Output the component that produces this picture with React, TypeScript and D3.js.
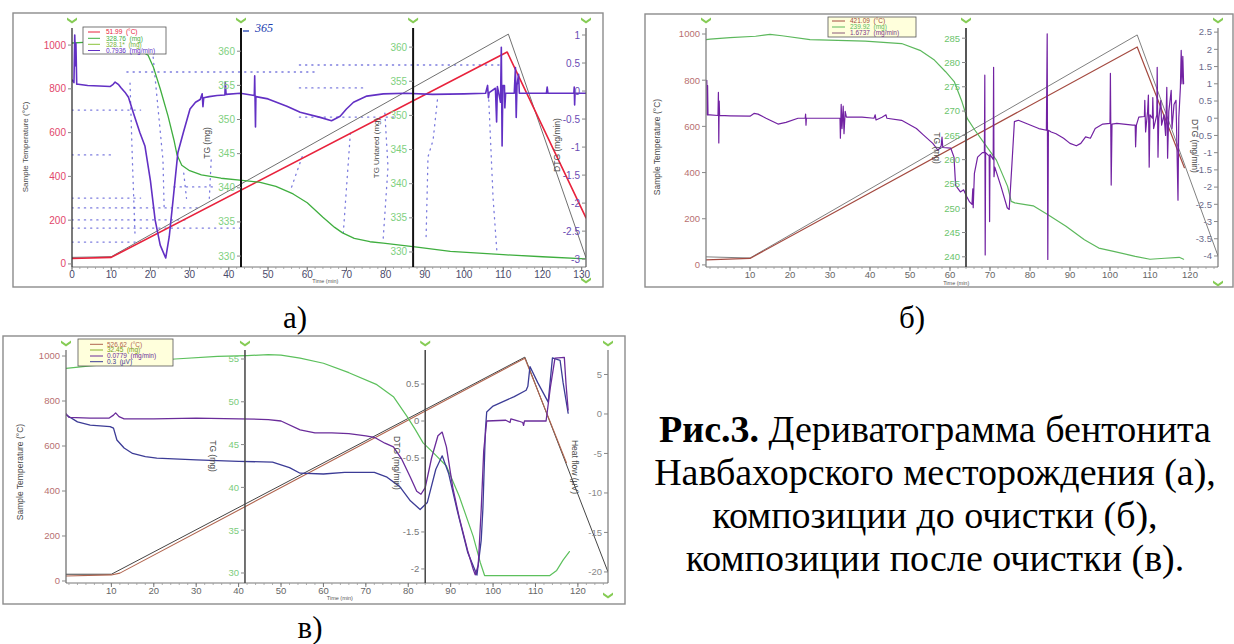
import * as d3 from 'd3';

type Pt = [number, number];

// ---------- а) бентонит ----------
const timeTicksA = [0, 10, 20, 30, 40, 50, 60, 70, 80, 90, 100, 110, 120, 130];
const tempTicks = [0, 200, 400, 600, 800, 1000];
const tgTicksA = [330, 335, 340, 345, 350, 355, 360];
const dtgTicksA = [1, 0.5, 0, -0.5, -1, -1.5, -2, -2.5, -3];

const sampleTempA: Pt[] = [[0, 25], [10, 30], [111, 968], [131.1, 210]];
const programTempA: Pt[] = [[0, 30], [10, 33], [111.3, 1050], [131.1, 28]];
const tgA: Pt[] = [
  [0, 361.2], [3, 361.3], [8, 361.3], [14, 360.8], [18, 359.9], [19.4, 359.4], [20.8, 357.6],
  [22.5, 354.5], [24.5, 350.5], [26, 347], [26.8, 344.8], [28, 343.3], [30, 342.5], [33, 341.9],
  [38, 341.4], [43.4, 341.1], [48, 340.8], [52, 340.2], [56.4, 339.1], [60, 337.8], [64, 335.7],
  [67, 334.2], [69, 333.4], [72, 332.6], [76, 332.1], [79.4, 331.9], [88, 331.3], [96.5, 330.7],
  [110, 330.2], [120, 329.9], [131.1, 329.6],
];
const dtgA: Pt[] = [
  [0, 0.2], [0.5, 0.15], [0.7, 1.0], [0.9, 0.45], [1.0, 0.85], [1.2, 0.12], [1.6, 0.12], [4, 0.1],
  [7, 0.09], [9.7, 0.08], [10.5, 0.12], [11, 0.16], [11.8, 0.12], [12.5, 0.06], [13.5, -0.02],
  [14.4, -0.11], [15.6, -0.38], [17.3, -0.74], [18.6, -0.98], [20, -1.6], [21.2, -2.3], [22.5, -2.75],
  [23.9, -2.98], [24.8, -2.6], [25.8, -1.93], [27, -1.1], [28.4, -0.74], [30.1, -0.32], [31.5, -0.2],
  [32.7, -0.15], [33.2, -0.05], [33.4, -0.28], [33.6, -0.12], [35, -0.1], [37, -0.08], [39, -0.07],
  [39.1, 0.16], [39.3, -0.06], [42.9, -0.04], [46.5, -0.08], [46.6, 0.27], [46.8, -0.64], [46.9, -0.1],
  [50, -0.14], [54.8, -0.27], [58.2, -0.38], [63.3, -0.47], [66.2, -0.53], [68.4, -0.45], [70, -0.32],
  [71.8, -0.2], [75.2, -0.09], [79.4, -0.05], [85, -0.04], [92, -0.06], [100, -0.05], [105.5, -0.04],
  [106, 0.1], [106.2, -0.12], [106.4, -0.03], [108, 0.05], [108.3, -0.55], [108.5, 0.08], [109.3, -0.2],
  [109.5, 0.78], [109.7, -0.98], [109.9, 0.1], [110.3, 0.1], [110.4, -0.3], [110.6, -0.04], [112.8, -0.04],
  [113.1, 0.42], [113.3, -0.47], [113.5, 0.1], [113.9, 0.3], [114.1, -0.04], [121, -0.04], [121.2, 0.07],
  [121.4, -0.04], [128, -0.04], [128.1, 0.07], [128.2, -0.25], [128.3, -0.04], [131.1, -0.04],
];
// blue dotted traces of the scanned original (temperature units)
const dottedA: Pt[][] = [
  [[0, 100], [17.5, 100]], [[0, 164], [43, 164]], [[0, 201], [29, 201]], [[0, 256], [33, 256]],
  [[0, 301], [17.5, 301]], [[26, 352], [36, 352]], [[0, 498], [10, 498]], [[0, 703], [17.5, 703]],
  [[14, 877], [63, 877]], [[58, 909], [109, 909]], [[58, 804], [75, 804]], [[58, 671], [82, 671]],
  [[14.8, 826], [15.4, 475], [16.1, 120]], [[20.7, 945], [23.2, 475], [23.5, 260]],
  [[28.5, 415], [29.2, 300]], [[35.5, 475], [35, 290]], [[58.7, 490], [55.6, 330]],
  [[71, 598], [69.2, 142]], [[79.8, 689], [80.6, 443], [79.3, 96]],
  [[93.2, 749], [92.1, 566], [90.8, 489], [90.3, 110]], [[106.3, 749], [107.4, 301], [108.4, 50]],
];
const legendA = ['51.99  (°C)', '328.76  (mg)', '328.1*  (mg)', '0.7936  (mg/min)'];

// ---------- б) композиция до очистки ----------
const timeTicksB = [10, 20, 30, 40, 50, 60, 70, 80, 90, 100, 110, 120];
const tgTicksB = [240, 245, 250, 255, 260, 265, 270, 275, 280, 285];
const dtgTicksB = [2.5, 2, 1.5, 1, 0.5, 0, -0.5, -1, -1.5, -2, -2.5, -3, -3.5, -4];

const programTempB: Pt[] = [[-1, 35], [10, 30], [106.8, 996], [127, 39]];
const sampleTempB: Pt[] = [[-1, 22], [10, 28], [106.8, 944], [118.6, 421]];
const tgB: Pt[] = [
  [-1, 284.7], [0, 284.8], [5, 285.1], [11.4, 285.4], [15, 285.8], [18, 285.5], [25, 284.7],
  [38.8, 284.4], [47.9, 283.9], [52.5, 282.5], [56.1, 280.5], [58.9, 278.1], [61.1, 276], [63, 271.9],
  [64.3, 268.5], [66.2, 266.1], [68.9, 263], [71.6, 259.9], [74.4, 254.5], [75.3, 251.4], [76.2, 251.1],
  [80.8, 250.5], [84.4, 248.7], [89, 246.3], [93.6, 243.5], [97.2, 241.8], [100.9, 241.1],
  [106.3, 240.1], [110, 239.5], [113.7, 239.7], [117.3, 239.9], [118.4, 239.5],
];
const dtgB: Pt[] = [
  [-0.8, 1.1], [-0.7, 0.1], [-0.6, 0.95], [-0.5, 0.1], [0, 0.1], [2, 0.08], [2.1, 0.75], [2.2, -0.72],
  [2.3, 0.5], [2.4, 0.08], [5, 0.07], [10, 0.06], [11, 0.14], [12, 0.12], [14, 0], [17, -0.17],
  [19, -0.12], [22, 0], [23.8, 0], [23.9, 0.12], [24, -0.2], [24.1, 0], [32.5, 0], [32.6, -0.58],
  [32.8, 0.4], [33, -0.3], [33.3, 0.35], [33.5, -0.45], [33.8, 0.2], [34.1, 0.03], [38, 0.03], [41, 0],
  [41.3, 0.1], [41.5, -0.05], [43, 0.03], [44, 0.1], [44.2, 0], [47.9, -0.06], [51.6, -0.3],
  [53.4, -0.49], [55.7, -0.73], [57, -0.93], [57.8, -0.8], [58, -0.55], [58.2, -0.85], [60.2, -0.87],
  [61, -1.13], [61.4, -1.95], [62.6, -2.14], [63.4, -2.08], [64.2, -2.28], [64.9, -2.43], [65.5, -2.5],
  [65.7, -2.05], [65.8, -2.6], [66.1, -1.6], [66.9, -1.13], [68.1, -1], [68.6, -1], [68.7, 1.25],
  [68.8, -3.97], [68.9, -1], [69.8, -1.1], [69.9, -3], [70, -1.05], [70.8, -1.2], [70.9, 1.48],
  [71, -1.7], [71.2, -1.42], [72.8, -2], [74.3, -2.6], [74.8, -2.65], [75.5, -1.3], [76.1, -0.1],
  [77.1, -0.06], [82.2, -0.3], [84.1, -0.35], [84.3, 2.45], [84.45, -4.1], [84.6, -0.35], [85.3, -0.4],
  [86.5, -0.45], [88.4, -0.58], [90, -0.73], [91.6, -0.8], [92.7, -0.73], [93.9, -0.54], [95.1, -0.58],
  [96.3, -0.3], [98.2, -0.17], [100, -0.15], [100.1, 1.3], [100.3, -1.94], [100.5, -0.17],
  [101.7, -0.15], [105.7, -0.2], [106.3, -0.2], [106.4, -0.83], [106.6, -0.2], [107.2, 0.03],
  [108.6, 0.05], [108.7, 0.52], [108.9, -0.4], [109.4, 0.2], [109.6, 0.67], [109.8, -1.42], [110, 0.1],
  [110.6, 0], [110.7, 0.6], [110.9, -0.3], [111.7, 0.1], [111.8, 1.48], [112, -1.13], [112.2, 0],
  [112.7, 0.52], [112.9, -0.2], [113.5, 0.1], [113.9, -0.5], [114.2, 0.9], [114.4, -1.16], [114.7, 0.2],
  [115.3, 0.81], [115.5, -0.3], [116, 0.4], [116.5, 0.52], [116.7, -0.6], [117, -2.38], [117.2, 0],
  [117.6, 0.9], [117.8, 1.97], [118, 1], [118.2, 1.8], [118.4, 1],
];
const legendB = ['421.09  (°C)', '239.92  (mg)', '1.6737  (mg/min)'];

// ---------- в) композиция после очистки ----------
const tgTicksV = [30, 35, 40, 45, 50, 55];
const dtgTicksV = [0.5, 0, -0.5, -1.5, -2];
const hfTicksV = [5, 0, -5, -10, -15, -20];

const programTempV: Pt[] = [[-0.7, 30], [10, 30], [107.5, 995], [127.1, 40]];
const sampleTempV: Pt[] = [[-0.7, 22], [10, 27], [12, 35], [107.5, 990], [117.3, 526]];
const tgV: Pt[] = [
  [-0.7, 53.9], [5, 54.2], [15, 54.6], [25, 55], [35, 55.3], [42, 55.4], [47, 55.5], [50, 55.45],
  [54.5, 55.1], [60, 54.5], [66, 53.4], [72.6, 52], [76.5, 50.6], [79.7, 48.3], [81.6, 46.8],
  [83.5, 45.2], [86, 44], [89, 42.5], [92, 39], [95.3, 34.3], [97, 31.2], [98, 29.7], [113.4, 29.7],
  [115, 30.3], [116.5, 31.5], [118, 32.5],
];
const dtgV: Pt[] = [
  [-0.7, 0.1], [0, 0.05], [5, 0.04], [9.5, 0.04], [10.5, 0.08], [11, 0.11], [11.8, 0.06], [13, 0.03],
  [20, 0.03], [30, 0.04], [40, 0.03], [47, 0.02], [50, 0], [54.5, -0.12], [58, -0.16], [62, -0.16],
  [66, -0.17], [70, -0.2], [72, -0.22], [74.5, -0.3], [76.5, -0.35], [78.5, -0.52], [80.5, -0.76],
  [82, -0.95], [83, -0.99], [84, -0.9], [85.5, -0.5], [87, -0.2], [88, -0.15], [89, -0.35], [90.5, -0.9],
  [92, -1.3], [94, -1.75], [95.3, -2], [95.8, -2.08], [96.5, -1.95], [97.2, -1.2], [97.8, -0.4],
  [98.5, 0], [103, 0.01], [104, -0.02], [104.2, 0.03], [106, 0], [107, -0.02], [107.2, -0.06],
  [107.4, 0], [112.5, 0], [113.5, 0.45], [114.6, 0.85], [116.8, 0.86], [117.2, 0.5], [117.7, 0.15],
];
const heatFlowV: Pt[] = [
  [-0.7, -0.1], [2, -1], [5, -1.4], [9.7, -1.6], [10.5, -1.8], [11.3, -3.3], [13, -4.3], [15, -5],
  [18, -5.4], [20.7, -5.6], [30, -5.8], [40, -6], [48, -6.1], [52, -6.8], [54.5, -7.5], [60, -7.6],
  [65, -7.4], [72, -7.4], [75, -8], [78, -9.2], [80.5, -11], [82.8, -12.1], [84.5, -11.2], [86.5, -7],
  [88, -5.3], [89.5, -7.5], [91.5, -12.1], [94, -17.5], [96.2, -20.4], [97.2, -16], [97.6, -12],
  [98.2, -2], [98.5, 0.25], [100, 1], [105, 2.2], [107.8, 3], [108.2, 3.5], [108.7, 6], [110.5, 4],
  [113, 1.5], [114, 7.1], [115.8, 6.8], [116.5, 4], [117.7, 0.1],
];
const legendV = ['526.62  (°C)', '32.45  (mg)', '0.0779  (mg/min)', '0.3  (μV)'];

const captionLines = [
  'Навбахорского месторождения (а),',
  'композиции до очистки (б),',
  'композиции после очистки (в).',
];

// ---------- drawing ----------
type YAxis = {
  id: string; domain: [number, number]; at: number; ticks: number[];
  color: string; line: string; lw: number;
  title: string; titleX: number; titleY: number; rot: number; titleSize: number;
};
type Series = { pts: Pt[]; axis: string; color: string; width: number; dash?: string; opacity?: number };
type Legend = {
  box: [number, number, number, number]; rows: number[]; lineX: [number, number]; textX: number;
  fill: string; items: { label: string; line: string; text: string }[];
};
type PanelCfg = {
  id: string; frame: [number, number, number, number];
  plotX: [number, number]; plotY: [number, number]; xDomain: [number, number];
  xTicks: number[]; xTickColor: string; timeLabel: [number, number]; tickFont: number;
  axes: YAxis[]; series: Series[]; legend: Legend; chevY: [number, number];
};

const SANS = '"Liberation Sans", Arial, sans-serif';
const SERIF = '"Liberation Serif", "Times New Roman", serif';

function Chevron({ x, y }: { x: number; y: number }) {
  return <path transform={`translate(${x},${y})`} d="M-5,-2.5 L0,1 L5,-2.5 L5,0 L0,3.5 L-5,0 Z" fill="#86cc55" />;
}

function Panel({ c }: { c: PanelCfg }) {
  const x = d3.scaleLinear().domain(c.xDomain).range(c.plotX);
  const [yb, yt] = c.plotY;
  const ys = new Map(c.axes.map(a => [a.id, d3.scaleLinear().domain(a.domain).range([yb, yt])]));
  const minor = d3.range(Math.ceil(c.xDomain[0] / 2) * 2, c.xDomain[1], 2);
  const [f0, f1, f2, f3] = c.frame;
  const L = c.legend;
  return (
    <g fontFamily={SANS}>
      <rect x={f0} y={f1} width={f2 - f0} height={f3 - f1} fill="#fff" stroke="#8c8c8c" strokeWidth={1.4} />
      <clipPath id={`clip-${c.id}`}>
        <rect x={c.plotX[0]} y={yt} width={c.plotX[1] - c.plotX[0]} height={yb - yt} />
      </clipPath>

      <line x1={c.plotX[0]} x2={c.plotX[1]} y1={yb} y2={yb} stroke="#777" strokeWidth={1} />
      {minor.map(t => (
        <line key={`m${t}`} x1={x(t)} x2={x(t)} y1={yb} y2={yb + 2} stroke="#9a9a9a" strokeWidth={0.8} />
      ))}
      {c.xTicks.map(t => (
        <g key={`t${t}`}>
          <line x1={x(t)} x2={x(t)} y1={yb} y2={yb + 4} stroke="#777" />
          <text x={x(t)} y={yb + 11} textAnchor="middle" fontSize={c.tickFont} fill={c.xTickColor}>{t}</text>
        </g>
      ))}
      <text x={x(c.timeLabel[0])} y={yb + c.timeLabel[1]} fontSize={5.5} fill="#555">Time (min)</text>

      <g clipPath={`url(#clip-${c.id})`}>
        {c.series.map((s, i) => (
          <path key={i} d={d3.line<Pt>().x(d => x(d[0])).y(d => ys.get(s.axis)!(d[1]))(s.pts) ?? ''}
            fill="none" stroke={s.color} strokeWidth={s.width} strokeDasharray={s.dash}
            strokeLinecap="round" strokeLinejoin="round" opacity={s.opacity ?? 1} />
        ))}
      </g>

      {c.axes.map(a => {
        const y = ys.get(a.id)!;
        const ax = x(a.at);
        return (
          <g key={a.id}>
            <line x1={ax} x2={ax} y1={yt} y2={yb} stroke={a.line} strokeWidth={a.lw} />
            {a.ticks.map(v => (
              <g key={v}>
                <line x1={ax - 4} x2={ax} y1={y(v)} y2={y(v)} stroke="#888" />
                <text x={ax - 6} y={y(v)} dy="0.35em" textAnchor="end" fontSize={c.tickFont} fill={a.color}>{v}</text>
              </g>
            ))}
            <text transform={`translate(${a.titleX},${a.titleY}) rotate(${a.rot})`} textAnchor="middle"
              dy="0.35em" fontSize={a.titleSize} fill="#4a4a4a">{a.title}</text>
            <Chevron x={ax} y={c.chevY[0]} />
          </g>
        );
      })}
      <Chevron x={x(c.xDomain[1])} y={c.chevY[1]} />

      <rect x={L.box[0]} y={L.box[1]} width={L.box[2] - L.box[0]} height={L.box[3] - L.box[1]}
        fill={L.fill} stroke="#555" strokeWidth={0.8} />
      {L.items.map((it, i) => (
        <g key={i}>
          <line x1={L.lineX[0]} x2={L.lineX[1]} y1={L.rows[i]} y2={L.rows[i]} stroke={it.line} strokeWidth={1} />
          <text x={L.textX} y={L.rows[i]} dy="0.35em" fontSize={6.5} fill={it.text} style={{ whiteSpace: 'pre' }}>{it.label}</text>
        </g>
      ))}
    </g>
  );
}

const RED = '#e8223c', GRAYL = '#707070', GREENA = '#3fae3f', PURPLEA = '#6230c4', DOTBLUE = '#3434cc';
const BROWN = '#a44a40', GREENB = '#5cb85c', PURPLEB = '#7222a2';
const BROWNV = '#b0644e', DARKV = '#454545', GREENV = '#5cc05c', PURPLEV = '#6a2c9a', BLUEV = '#3c3c96';

const panelA: PanelCfg = {
  id: 'a', frame: [13, 13, 603, 287], plotX: [72, 586], plotY: [267, 28], xDomain: [0, 131.1],
  xTicks: timeTicksA, xTickColor: '#4a4a6a', timeLabel: [61.3, 16], tickFont: 10, chevY: [20, 280],
  axes: [
    { id: 'T', domain: [-14, 1078], at: 0, ticks: tempTicks, color: '#e2466a', line: '#333', lw: 1.3,
      title: 'Sample Temperature (°C)', titleX: 25, titleY: 147, rot: -90, titleSize: 8 },
    { id: 'TG', domain: [328.4, 363.4], at: 43.1, ticks: tgTicksA, color: '#7ed07e', line: '#111', lw: 2,
      title: 'TG (mg)', titleX: 207, titleY: 143, rot: -90, titleSize: 8.5 },
    { id: 'TGU', domain: [327.8, 362.8], at: 87, ticks: tgTicksA, color: '#7ed07e', line: '#111', lw: 2,
      title: 'TG Untared (mg)', titleX: 376, titleY: 148, rot: -90, titleSize: 8 },
    { id: 'DTG', domain: [-3.14, 1.125], at: 131.1, ticks: dtgTicksA, color: '#6a4cb4', line: '#555', lw: 1.2,
      title: 'DTG (mg/min)', titleX: 557, titleY: 145, rot: -90, titleSize: 8.5 },
  ],
  series: [
    ...dottedA.map(pts => ({ pts, axis: 'T', color: DOTBLUE, width: 1.3, dash: '1.2 5', opacity: 0.65 })),
    { pts: programTempA, axis: 'T', color: GRAYL, width: 1 },
    { pts: sampleTempA, axis: 'T', color: RED, width: 1.6 },
    { pts: tgA, axis: 'TG', color: GREENA, width: 1.3 },
    { pts: dtgA, axis: 'DTG', color: PURPLEA, width: 1.6 },
  ],
  legend: {
    box: [83, 27, 166, 54], rows: [32, 38.3, 44.3, 50.5], lineX: [88, 100], textX: 106, fill: '#fff',
    items: [
      { label: legendA[0], line: RED, text: RED },
      { label: legendA[1], line: GREENA, text: GREENA },
      { label: legendA[2], line: '#8ac43a', text: '#7ab43a' },
      { label: legendA[3], line: PURPLEA, text: PURPLEA },
    ],
  },
};

const panelB: PanelCfg = {
  id: 'b', frame: [645, 14, 1233, 287], plotX: [706, 1218], plotY: [267, 28], xDomain: [-1, 127],
  xTicks: timeTicksB, xTickColor: '#666', timeLabel: [58.3, 18], tickFont: 9.5, chevY: [20, 283],
  axes: [
    { id: 'T', domain: [-9, 1026], at: -1, ticks: tempTicks, color: '#b87070', line: '#777', lw: 1.2,
      title: 'Sample Temperature (°C)', titleX: 657, titleY: 147, rot: -90, titleSize: 8.5 },
    { id: 'TG', domain: [237.9, 287.1], at: 64, ticks: tgTicksB, color: '#6cc46c', line: '#444', lw: 1.8,
      title: 'TG (mg)', titleX: 937, titleY: 148, rot: 90, titleSize: 8.5 },
    { id: 'DTG', domain: [-4.32, 2.62], at: 127, ticks: dtgTicksB, color: '#6b6b8b', line: '#777', lw: 1.2,
      title: 'DTG (mg/min)', titleX: 1195, titleY: 146, rot: 90, titleSize: 8.5 },
  ],
  series: [
    { pts: programTempB, axis: 'T', color: '#808080', width: 1 },
    { pts: sampleTempB, axis: 'T', color: BROWN, width: 1.2 },
    { pts: tgB, axis: 'TG', color: GREENB, width: 1.2 },
    { pts: dtgB, axis: 'DTG', color: PURPLEB, width: 1.2 },
  ],
  legend: {
    box: [828, 17, 916, 37], rows: [21, 27, 33], lineX: [832, 845], textX: 850, fill: '#ffffdc',
    items: [
      { label: legendB[0], line: BROWN, text: BROWN },
      { label: legendB[1], line: GREENB, text: GREENB },
      { label: legendB[2], line: '#8a5a7a', text: '#7a3a8a' },
    ],
  },
};

const panelV: PanelCfg = {
  id: 'v', frame: [3, 336, 625, 604], plotX: [66, 608], plotY: [583, 350], xDomain: [-0.7, 127.1],
  xTicks: timeTicksB, xTickColor: '#666', timeLabel: [60.8, 17], tickFont: 9.5, chevY: [343, 595],
  axes: [
    { id: 'T', domain: [-8.9, 1026.7], at: -0.7, ticks: tempTicks, color: '#b87070', line: '#666', lw: 1.2,
      title: 'Sample Temperature (°C)', titleX: 20, titleY: 472, rot: -90, titleSize: 8.5 },
    { id: 'TG', domain: [28.83, 56.05], at: 41.5, ticks: tgTicksV, color: '#7ccc7c', line: '#444', lw: 1.5,
      title: 'TG (mg)', titleX: 213, titleY: 456, rot: 90, titleSize: 8.5 },
    { id: 'DTG', domain: [-2.19, 0.96], at: 84, ticks: dtgTicksV, color: '#777', line: '#444', lw: 1.5,
      title: 'DTG (mg/min)', titleX: 397, titleY: 463, rot: 90, titleSize: 8.5 },
    { id: 'HF', domain: [-21.4, 8.1], at: 127.1, ticks: hfTicksV, color: '#888', line: '#777', lw: 1.2,
      title: 'Heat flow (μV)', titleX: 575, titleY: 467, rot: 90, titleSize: 8.5 },
  ],
  series: [
    { pts: programTempV, axis: 'T', color: DARKV, width: 1 },
    { pts: sampleTempV, axis: 'T', color: BROWNV, width: 1.1 },
    { pts: tgV, axis: 'TG', color: GREENV, width: 1.2 },
    { pts: heatFlowV, axis: 'HF', color: BLUEV, width: 1.3 },
    { pts: dtgV, axis: 'DTG', color: PURPLEV, width: 1.3 },
  ],
  legend: {
    box: [78, 339, 173, 366], rows: [344.3, 350, 356, 361.7], lineX: [90, 103], textX: 107, fill: '#ffffdc',
    items: [
      { label: legendV[0], line: BROWNV, text: BROWNV },
      { label: legendV[1], line: '#8ab030', text: '#7a9a20' },
      { label: legendV[2], line: PURPLEV, text: PURPLEV },
      { label: legendV[3], line: BLUEV, text: BLUEV },
    ],
  },
};

export default function App() {
  return (
    <div style={{ position: 'absolute', left: 0, top: 0, width: 1234, height: 644, background: '#fff' }}>
      <svg width={1234} height={644} style={{ display: 'block' }}>
        <rect width={1234} height={644} fill="#fff" />
        <Panel c={panelA} />
        <Panel c={panelB} />
        <Panel c={panelV} />

        {/* handwritten note on panel а */}
        <line x1={243} x2={249} y1={31} y2={31} stroke="#2040b0" strokeWidth={1.3} />
        <text x={255} y={32} fontFamily={SERIF} fontStyle="italic" fontSize={12} fill="#2040b0">365</text>

        <g fontFamily={SERIF} fill="#000">
          <text x={295} y={328} fontSize={31} textAnchor="middle">а)</text>
          <text x={912} y={328} fontSize={31} textAnchor="middle">б)</text>
          <text x={310} y={638} fontSize={31} textAnchor="middle">в)</text>
          <text x={935} y={442} fontSize={38} textAnchor="middle">
            <tspan fontWeight="bold">Рис.3.</tspan> Дериватограмма бентонита
          </text>
          {captionLines.map((s, i) => (
            <text key={i} x={935} y={485 + i * 43} fontSize={38} textAnchor="middle">{s}</text>
          ))}
        </g>
      </svg>
    </div>
  );
}
